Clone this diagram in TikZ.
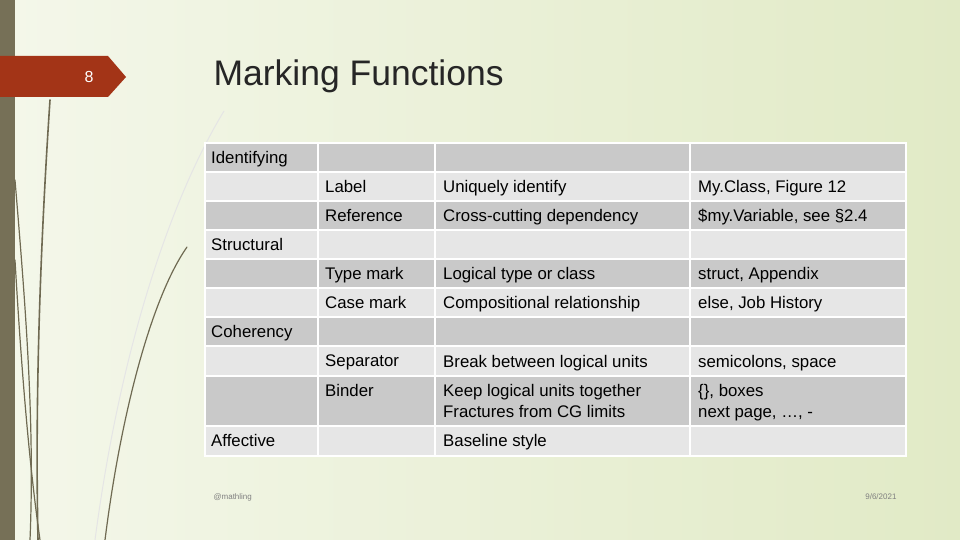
\documentclass[tikz,border=0pt]{standalone}
\usepackage{fontspec}
\setmainfont{Liberation Sans}
\definecolor{barc}{HTML}{767057}
\definecolor{redc}{HTML}{A33417}
\definecolor{dk}{HTML}{C9C9C9}
\definecolor{lt}{HTML}{E6E6E6}
\definecolor{bgl}{HTML}{F4F7EA}
\definecolor{bgr}{HTML}{E1EAC6}
\definecolor{grass}{HTML}{6F6A52}
\begin{document}
\begin{tikzpicture}[x=1pt,y=-1pt,
  cell/.style={anchor=north west,inner sep=0pt,text depth=0pt,font=\fontsize{16.8}{20}\selectfont,align=left},
  strk/.style={draw=grass,line width=1.6pt,line cap=round}]
\useasboundingbox (0,0) rectangle (960,540);
\shade[left color=bgl,right color=bgr] (0,0) rectangle (960,540);
\fill[barc] (0,0) rectangle (15,540);
% grass strokes
\draw[strk] (50,100) .. controls (40,250) and (35,400) .. (38,540);
\draw[strk,line width=1.2pt] (15,180) .. controls (25,300) and (35,420) .. (30,540);
\draw[strk,line width=1.2pt] (15,260) .. controls (22,380) and (30,470) .. (40,540);
\draw[strk,line width=1.2pt] (187,247) .. controls (150,300) and (120,420) .. (105,540);
\draw[draw=white!80!gray,line width=1pt] (224,111) .. controls (170,200) and (120,350) .. (95,540);
% banner
\fill[redc] (0,56) -- (108,56) -- (126,77) -- (108,97) -- (0,97) -- cycle;
\node[text=white,font=\fontsize{16}{19}\selectfont] (num) at (89,77) {8};
\node[anchor=west,text=black!85,font=\fontsize{35.5}{40}\selectfont] (title) at (210,76) {Marking Functions};
% table
\foreach \i/\ya/\yb/\c in {0/143/172/dk,1/172/201/lt,2/201/230/dk,3/230/259/lt,4/259/288/dk,5/288/317/lt,6/317/346/dk,7/346/376/lt,8/376/426/dk,9/426/456/lt}{
  \foreach \xa/\xb in {205/318,318/435,435/690,690/906}{
    \fill[\c,draw=white,line width=1.5pt] (\xa,\ya) rectangle (\xb,\yb);
  }
}
\node[cell] (r0) at (211,151) {Identifying};
\node[cell] (l1) at (325,180) {Label};
\node[cell] (d1) at (443,180) {Uniquely identify};
\node[cell] (e1) at (698,180) {My.Class, Figure 12};
\node[cell] (l2) at (325,209) {Reference};
\node[cell] (d2) at (443,209) {Cross-cutting dependency};
\node[cell] (e2) at (698,209) {\$my.Variable, see §2.4};
\node[cell] (r3) at (211,238) {Structural};
\node[cell] (l4) at (325,267) {Type mark};
\node[cell] (d4) at (443,267) {Logical type or class};
\node[cell] (e4) at (698,267) {struct, Appendix};
\node[cell] (l5) at (325,296) {Case mark};
\node[cell] (d5) at (443,296) {Compositional relationship};
\node[cell] (e5) at (698,296) {else, Job History};
\node[cell] (r6) at (211,325) {Coherency};
\node[cell] (l7) at (325,355) {Separator};
\node[cell] (d7) at (443,355) {Break between logical units};
\node[cell] (e7) at (698,355) {semicolons, space};
\node[cell] (l8) at (325,384) {Binder};
\node[cell,font=\fontsize{16.8}{21}\selectfont] (d8) at (443,384) {Keep logical units together\\Fractures from CG limits};
\node[cell,font=\fontsize{16.8}{21}\selectfont] (e8) at (698,384) {\{\}, boxes\\next page, …, -};
\node[cell] (r9) at (211,434) {Affective};
\node[cell] (d9) at (443,434) {Baseline style};
\node[anchor=west,text=gray,font=\fontsize{8}{10}\selectfont] (ft) at (210,497) {@mathling};
\node[anchor=east,text=gray,font=\fontsize{8}{10}\selectfont] (dt) at (900,497) {9/6/2021};
\end{tikzpicture}
\end{document}
